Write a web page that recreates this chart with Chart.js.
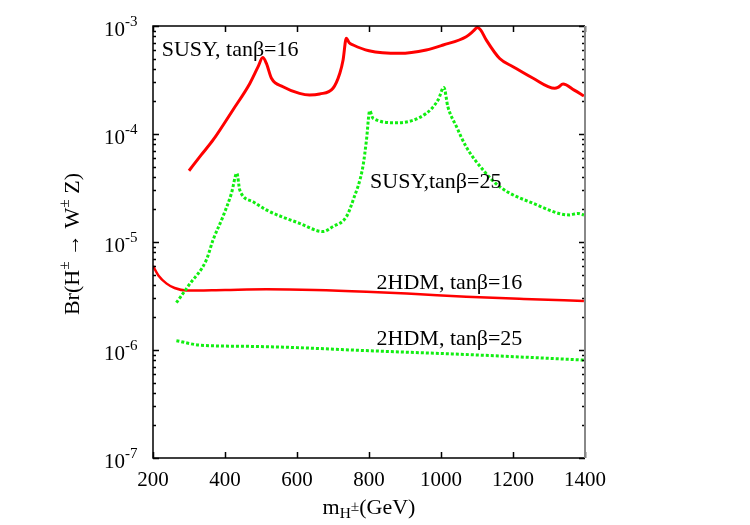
<!doctype html>
<html lang="en">
  <head>
    <meta charset="utf-8">
    <title>Br(H± → W± Z)</title>
    <style>
      * { margin: 0; padding: 0; }
      body { background: #fff; }
      #chart { display: block; }
    </style>
  </head>
  <body>
    <canvas id="chart" width="750" height="525"></canvas>
    <script src="https://cdn.jsdelivr.net/npm/chart.js/dist/chart.umd.min.js"></script>
    <script>
    // data
    const mSusy16 = [300, 334, 367, 422, 469, 492, 505, 515, 529, 561, 607, 635, 663, 700, 719, 728, 737, 745, 756, 800, 885, 959, 1006, 1070, 1090, 1101, 1110, 1126, 1163, 1200, 1256, 1316, 1325, 1339, 1370, 1397];
    const brSusy16 = [4.57e-5, 6.4e-5, 8.8e-5, 1.67e-4, 2.94e-4, 4.2e-4, 5.1e-4, 4.5e-4, 3.28e-4, 2.74e-4, 2.38e-4, 2.3e-4, 2.35e-4, 2.65e-4, 3.65e-4, 4.84e-4, 7.7e-4, 7.0e-4, 6.67e-4, 5.9e-4, 5.58e-4, 6.0e-4, 6.67e-4, 7.96e-4, 9.0e-4, 9.7e-4, 9.2e-4, 7.4e-4, 5.0e-4, 4.2e-4, 3.28e-4, 2.65e-4, 2.7e-4, 2.9e-4, 2.55e-4, 2.25e-4];

    const mSusy25 = [265, 300, 348, 367, 394, 418, 433, 441, 478, 515, 607, 672, 700, 737, 756, 783, 793, 802, 811, 876, 959, 992, 1008, 1019, 1043, 1070, 1117, 1163, 1256, 1357, 1380, 1397];
    const brSusy25 = [2.74e-6, 4.0e-6, 6.8e-6, 1.05e-5, 1.71e-5, 2.83e-5, 4.33e-5, 3.03e-5, 2.36e-5, 1.98e-5, 1.49e-5, 1.25e-5, 1.39e-5, 1.71e-5, 2.45e-5, 4.98e-5, 8.8e-5, 1.64e-4, 1.4e-4, 1.27e-4, 1.55e-4, 2.07e-4, 2.7e-4, 1.79e-4, 1.17e-4, 7.6e-5, 4.64e-5, 3.25e-5, 2.28e-5, 1.78e-5, 1.84e-5, 1.78e-5];

    const m2hdm16 = [200, 215, 237, 260, 293, 400, 515, 650, 793, 930, 1070, 1230, 1397];
    const br2hdm16 = [6.0e-6, 4.9e-6, 4.14e-6, 3.75e-6, 3.55e-6, 3.6e-6, 3.65e-6, 3.6e-6, 3.47e-6, 3.3e-6, 3.12e-6, 2.97e-6, 2.84e-6];

    const m2hdm25 = [265, 330, 470, 607, 750, 885, 1030, 1163, 1290, 1397];
    const br2hdm25 = [1.22e-6, 1.11e-6, 1.08e-6, 1.05e-6, 1.0e-6, 9.6e-7, 9.2e-7, 8.8e-7, 8.4e-7, 8.07e-7];

    const xTicks = [200, 400, 600, 800, 1000, 1200, 1400];
    const yExps = [-7, -6, -5, -4, -3];

    const labels = [
      { text: 'SUSY, tanβ=16', m: 224, br: 6.0e-4 },
      { text: 'SUSY,tanβ=25', m: 803, br: 3.6e-5 },
      { text: '2HDM, tanβ=16', m: 821, br: 4.17e-6 },
      { text: '2HDM, tanβ=25', m: 821, br: 1.26e-6 }
    ];

    const RED = '#ff0000';
    const GREEN = '#11ee11';
    const SERIF = '"Liberation Serif", "DejaVu Serif", serif';

    const pts = (xs, ys) => xs.map((x, i) => ({ x: x, y: ys[i] }));

    // draw a run of text pieces: [text, 'n' | 'sup' | 'sub' | 'pm']
    function rich(ctx, parts, x, y, size) {
      let cx = x;
      parts.forEach(([t, mode]) => {
        let s = size, dy = 0;
        if (mode === 'sup') { s = size * 0.7; dy = -size * 0.38; }
        if (mode === 'sub') { s = size * 0.7; dy = size * 0.28; }
        if (mode === 'pm') { s = size * 0.7; dy = -size * 0.05; }
        ctx.font = s + 'px ' + SERIF;
        ctx.fillText(t, cx, y + dy);
        cx += ctx.measureText(t).width;
      });
      return cx - x;
    }
    function richWidth(ctx, parts, size) {
      let w = 0;
      parts.forEach(([t, mode]) => {
        const s = mode === 'n' ? size : size * 0.7;
        ctx.font = s + 'px ' + SERIF;
        w += ctx.measureText(t).width;
      });
      return w;
    }

    const frame = {
      id: 'frame',
      afterDraw(chart) {
        const { ctx, chartArea: a, scales: { x, y } } = chart;
        ctx.save();
        ctx.fillStyle = '#000';
        ctx.strokeStyle = '#000';
        ctx.lineWidth = 1.5;

        // inward ticks
        ctx.beginPath();
        xTicks.forEach(v => {
          const px = Math.round(x.getPixelForValue(v)) + 0.5;
          ctx.moveTo(px, a.bottom); ctx.lineTo(px, a.bottom - 6);
          ctx.moveTo(px, a.top); ctx.lineTo(px, a.top + 6);
        });
        yExps.forEach((e, i) => {
          const py = Math.round(y.getPixelForValue(Math.pow(10, e))) + 0.5;
          ctx.moveTo(a.left, py); ctx.lineTo(a.left + 6, py);
          ctx.moveTo(a.right, py); ctx.lineTo(a.right - 6, py);
          if (i < yExps.length - 1) {
            for (let k = 2; k <= 9; k++) {
              const pm = Math.round(y.getPixelForValue(k * Math.pow(10, e))) + 0.5;
              ctx.moveTo(a.left, pm); ctx.lineTo(a.left + 3, pm);
              ctx.moveTo(a.right, pm); ctx.lineTo(a.right - 3, pm);
            }
          }
        });
        ctx.stroke();

        // box: right side grey
        ctx.beginPath();
        ctx.moveTo(a.right, a.top); ctx.lineTo(a.left, a.top);
        ctx.lineTo(a.left, a.bottom); ctx.lineTo(a.right, a.bottom);
        ctx.stroke();
        ctx.strokeStyle = '#888';
        ctx.lineWidth = 2;
        ctx.beginPath();
        ctx.moveTo(a.right, a.top); ctx.lineTo(a.right, a.bottom);
        ctx.stroke();

        // x tick labels
        ctx.font = '21px ' + SERIF;
        ctx.textAlign = 'center';
        ctx.textBaseline = 'middle';
        xTicks.forEach(v => ctx.fillText(String(v), x.getPixelForValue(v), a.bottom + 22));

        // y tick labels 10^e
        ctx.textAlign = 'left';
        yExps.forEach(e => {
          const py = y.getPixelForValue(Math.pow(10, e));
          ctx.font = '21px ' + SERIF;
          ctx.fillText('10', a.left - 49, py + 4);
          ctx.font = '15px ' + SERIF;
          ctx.fillText(String(e), a.left - 28, py - 4);
        });

        // curve labels
        ctx.font = '22px ' + SERIF;
        labels.forEach(l => ctx.fillText(l.text, x.getPixelForValue(l.m), y.getPixelForValue(l.br)));

        // x title
        const xt = [['m', 'n'], ['H', 'sub'], ['±', 'pm'], ['(GeV)', 'n']];
        const cx = (a.left + a.right) / 2;
        rich(ctx, xt, cx - richWidth(ctx, xt, 22) / 2, a.bottom + 50, 22);

        // y title, rotated
        const yt = [['Br(H', 'n'], ['±', 'sup'], [' → W', 'n'], ['±', 'sup'], [' Z)', 'n']];
        ctx.translate(a.left - 80, (a.top + a.bottom) / 2 + 2);
        ctx.rotate(-Math.PI / 2);
        rich(ctx, yt, -richWidth(ctx, yt, 22) / 2, 0, 22);
        ctx.restore();
      }
    };

    const lineSet = (label, data, color, width, dash) => ({
      label, data,
      borderColor: color,
      borderWidth: width,
      borderDash: dash,
      borderCapStyle: 'butt',
      pointRadius: 0,
      fill: false,
      cubicInterpolationMode: 'monotone'
    });

    new Chart(document.getElementById('chart'), {
      type: 'line',
      data: {
        datasets: [
          lineSet('SUSY, tanβ=16', pts(mSusy16, brSusy16), RED, 3, []),
          lineSet('SUSY, tanβ=25', pts(mSusy25, brSusy25), GREEN, 3, [3, 2]),
          lineSet('2HDM, tanβ=16', pts(m2hdm16, br2hdm16), RED, 2.5, []),
          lineSet('2HDM, tanβ=25', pts(m2hdm25, br2hdm25), GREEN, 3, [3, 2])
        ]
      },
      options: {
        responsive: false,
        animation: false,
        devicePixelRatio: 1,
        layout: { padding: { left: 153, top: 26, right: 165, bottom: 67 } },
        plugins: { legend: { display: false }, tooltip: { enabled: false } },
        scales: {
          x: {
            type: 'linear', min: 200, max: 1400,
            grid: { display: false }, border: { display: false },
            ticks: { display: false },
            afterFit: s => { s.height = 0; }
          },
          y: {
            type: 'logarithmic', min: 1e-7, max: 1e-3,
            grid: { display: false }, border: { display: false },
            ticks: { display: false },
            afterFit: s => { s.width = 0; }
          }
        }
      },
      plugins: [frame]
    });
    </script>
  </body>
</html>
